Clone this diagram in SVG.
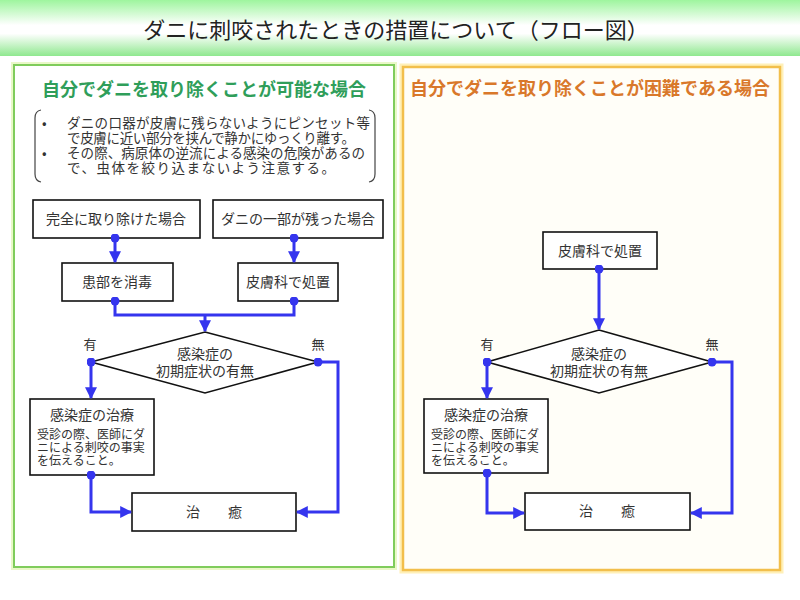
<svg xmlns="http://www.w3.org/2000/svg" width="800" height="600" viewBox="0 0 800 600">
<defs>
<linearGradient id="banner" x1="0" y1="0" x2="0" y2="1">
<stop offset="0" stop-color="#9ef59e"/>
<stop offset="0.45" stop-color="#ffffff"/>
<stop offset="0.6" stop-color="#ffffff"/>
<stop offset="1" stop-color="#8fe88f"/>
</linearGradient>
<marker id="arr" viewBox="0 0 10 10" refX="9" refY="5" markerWidth="4" markerHeight="4" orient="auto" markerUnits="strokeWidth">
<path d="M0,0 L10,5 L0,10 z" fill="#3535ee"/>
</marker>
<marker id="dot" viewBox="0 0 10 10" refX="5" refY="5" markerWidth="3" markerHeight="3" markerUnits="strokeWidth">
<circle cx="5" cy="5" r="5" fill="#3535ee"/>
</marker>
</defs>
<style>
text{font-family:"Noto Sans CJK JP","Noto Sans CJK SC",sans-serif;fill:#333}
.box{fill:#fff;stroke:#111;stroke-width:1.6}
.c{text-anchor:middle}
.t14{font-size:14px}
.t12{font-size:12px}
.conn{fill:none;stroke:#3535ee;stroke-width:3;stroke-linejoin:miter;marker-start:url(#dot);marker-end:url(#arr)}
.plain{fill:none;stroke:#3535ee;stroke-width:3;marker-start:url(#dot)}
.br{fill:none;stroke:#444;stroke-width:1.2}
</style>
<rect width="800" height="600" fill="#fff"/>
<g id="banner-g">
<rect x="0" y="0" width="800" height="56" fill="url(#banner)"/>
<text x="396" y="38" class="c" style="font-size:22px;fill:#222">ダニに刺咬されたときの措置について（フロー図）</text>
</g>
<g id="panel-left">
<rect x="14" y="65" width="380" height="502" fill="none" stroke="#eaf8c8" stroke-width="6"/>
<rect x="14" y="65" width="380" height="502" fill="#fff" stroke="#80cc5c" stroke-width="2"/>
<text x="204" y="96" class="c" style="font-size:18px;fill:#2f9e5a;font-weight:bold">自分でダニを取り除くことが可能な場合</text>
</g>
<g id="panel-right">
<rect x="403" y="67" width="377" height="503" fill="none" stroke="#fff0b8" stroke-width="7"/>
<rect x="403" y="67" width="377" height="503" fill="#fffef8" stroke="#f2bf4c" stroke-width="2.5"/>
<text x="590" y="95" class="c" style="font-size:18px;fill:#d9782a;font-weight:bold">自分でダニを取り除くことが困難である場合</text>
</g>
<g id="note">
<path class="br" d="M41,110 Q35,111 35,118 L35,174 Q35,181 41,182"/>
<path class="br" d="M369,110 Q375,111 375,118 L375,174 Q375,181 369,182"/>
<text style="font-size:13.5px"><tspan x="42" y="128">•</tspan><tspan x="42" y="158">•</tspan></text>
<text style="font-size:13.5px"><tspan x="67" y="128" textLength="303">ダニの口器が皮膚に残らないようにピンセット等</tspan><tspan x="67" y="143" textLength="288">で皮膚に近い部分を挟んで静かにゆっくり離す。</tspan><tspan x="67" y="158" textLength="298">その際、病原体の逆流による感染の危険があるの</tspan><tspan x="67" y="173" textLength="268">で、虫体を絞り込まないよう注意する。</tspan></text>
</g>
<g id="n-complete"><rect class="box" x="33" y="200" width="167" height="38"/><text x="116" y="224" class="c t14">完全に取り除けた場合</text></g>
<g id="n-partial"><rect class="box" x="213" y="200" width="170" height="38"/><text x="298" y="224" class="c t14">ダニの一部が残った場合</text></g>
<g id="n-disinfect"><rect class="box" x="62" y="263" width="111" height="38"/><text x="117" y="287" class="c t14">患部を消毒</text></g>
<g id="n-derm1"><rect class="box" x="238" y="263" width="100" height="38"/><text x="288" y="287" class="c t14">皮膚科で処置</text></g>
<g id="n-diamond1"><path class="box" d="M205,332 L318,362 L205,393 L91,362 Z"/><text class="c t14"><tspan x="205" y="359">感染症の</tspan><tspan x="205" y="376">初期症状の有無</tspan></text><text x="90" y="349" class="c" style="font-size:13px">有</text><text x="318" y="349" class="c" style="font-size:13px">無</text></g>
<g id="n-treat1"><rect class="box" x="30" y="399" width="124" height="76"/><text x="92" y="420" class="c t14">感染症の治療</text><text class="t12"><tspan x="37" y="439">受診の際、医師にダ</tspan><tspan x="37" y="452">ニによる刺咬の事実</tspan><tspan x="37" y="465">を伝えること。</tspan></text></g>
<g id="n-cure1"><rect class="box" x="132" y="493" width="164" height="38"/><text x="214" y="517" class="c t14">治　　癒</text></g>
<g id="n-derm2"><rect class="box" x="543" y="232" width="114" height="37"/><text x="600" y="256" class="c t14">皮膚科で処置</text></g>
<g id="n-diamond2"><path class="box" d="M599,330 L712,362 L599,393 L487,362 Z"/><text class="c t14"><tspan x="599" y="359">感染症の</tspan><tspan x="599" y="376">初期症状の有無</tspan></text><text x="487" y="349" class="c" style="font-size:13px">有</text><text x="712" y="349" class="c" style="font-size:13px">無</text></g>
<g id="n-treat2"><rect class="box" x="424" y="399" width="124" height="74"/><text x="486" y="420" class="c t14">感染症の治療</text><text class="t12"><tspan x="431" y="439">受診の際、医師にダ</tspan><tspan x="431" y="452">ニによる刺咬の事実</tspan><tspan x="431" y="465">を伝えること。</tspan></text></g>
<g id="n-cure2"><rect class="box" x="525" y="493" width="165" height="37"/><text x="607" y="516" class="c t14">治　　癒</text></g>
<g id="connectors">
<path class="conn" d="M115,238 L115,262"/>
<path class="conn" d="M294,238 L294,262"/>
<path class="plain" d="M115,301 L115,315 L205,315"/>
<path class="plain" d="M294,301 L294,315 L205,315"/>
<path fill="none" stroke="#3535ee" stroke-width="3" marker-end="url(#arr)" d="M205,315 L205,331"/>
<path class="conn" d="M91,362 L91,398"/>
<path class="conn" d="M91,475 L91,512 L131,512"/>
<path class="conn" d="M318,362 L338,362 L338,512 L297,512"/>
<path class="conn" d="M599,269 L599,329"/>
<path class="conn" d="M487,362 L487,398"/>
<path class="conn" d="M487,473 L487,513 L524,513"/>
<path class="conn" d="M712,362 L732,362 L732,513 L691,513"/>
</g>
</svg>
